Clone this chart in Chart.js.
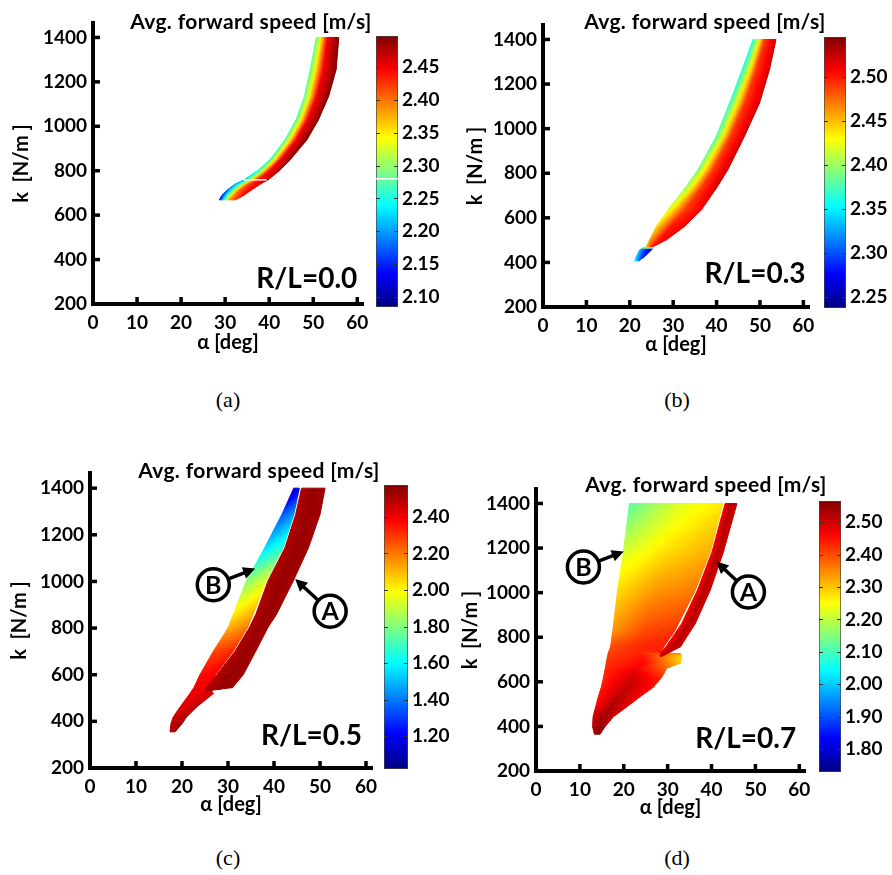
<!DOCTYPE html>
<html>
<head>
<meta charset="utf-8">
<script src="https://cdn.jsdelivr.net/npm/chart.js@4.4.1/dist/chart.umd.min.js"></script>
<style>
  body { margin: 0; background: #fff; }
  #page { position: relative; width: 892px; height: 875px; overflow: hidden; }
  canvas { position: absolute; }
  .ttl { position: absolute; width: max-content; font: bold 21px Lato, sans-serif; letter-spacing: 0.35px; white-space: nowrap; line-height: 1; transform: translate(-50%, -50%); }
  .cap { position: absolute; width: max-content; font: 22px "Liberation Serif", serif; line-height: 1; transform: translate(-50%, -50%); }
</style>
</head>
<body>
<div id="page"></div>
<script>
// axis ticks shared by all panels
const alphaTicks = [0, 10, 20, 30, 40, 50, 60];
const kTicks = [200, 400, 600, 800, 1000, 1200, 1400];

// colour bar ticks and limits
const cbTicksA = [2.10, 2.15, 2.20, 2.25, 2.30, 2.35, 2.40, 2.45];
const cbTicksB = [2.25, 2.30, 2.35, 2.40, 2.45, 2.50];
const cbTicksC = [1.20, 1.40, 1.60, 1.80, 2.00, 2.20, 2.40];
const cbTicksD = [1.80, 1.90, 2.00, 2.10, 2.20, 2.30, 2.40, 2.50];
const cbRangeA = [2.085, 2.497];
const cbRangeB = [2.237, 2.545];
const cbRangeC = [1.02, 2.575];
const cbRangeD = [1.73, 2.565];

// (a) R/L = 0.0 : rows of the stable region (k, edge angles, speed left/middle/right)
const aK      = [669, 690, 714, 740, 760, 800, 850, 940, 1030, 1135, 1255, 1400];
const aLeft   = [28.7, 29.3, 30.5, 32.3, 34.3, 37.3, 40.2, 43.6, 46.1, 48.0, 49.3, 50.7];
const aRight  = [32.3, 34.3, 36.0, 38.0, 39.8, 42.3, 44.8, 48.6, 51.2, 53.5, 55.2, 55.8];
const aSpeedL = [2.13, 2.15, 2.18, 2.20, 2.22, 2.25, 2.26, 2.27, 2.27, 2.28, 2.28, 2.28];
const aSpeedM = [2.37, 2.39, 2.41, 2.42, 2.43, 2.44, 2.45, 2.45, 2.45, 2.45, 2.45, 2.45];
const aSpeedR = [2.44, 2.45, 2.46, 2.46, 2.47, 2.48, 2.49, 2.495, 2.495, 2.495, 2.495, 2.495];
const aStreakK = 759;
const aStreakAlpha = [34.2, 39.4];
const aStreakSpeed = 2.28;

// (b) R/L = 0.3
const bK      = [407, 426, 456, 464, 471, 501, 561, 636, 740, 816, 965, 1115, 1265, 1400];
const bLeft   = [21.1, 21.5, 22.3, 22.9, 23.8, 24.6, 26.1, 28.8, 33.0, 35.7, 39.9, 43.0, 45.9, 48.4];
const bRight  = [22.1, 23.4, 25.0, 25.2, 25.4, 28.4, 32.6, 36.5, 40.2, 42.6, 46.4, 49.9, 52.2, 53.7];
const bSpeedL = [2.36, 2.34, 2.33, 2.33, 2.45, 2.46, 2.44, 2.42, 2.40, 2.39, 2.38, 2.37, 2.36, 2.36];
const bSpeedM = [2.33, 2.30, 2.28, 2.28, 2.49, 2.50, 2.50, 2.49, 2.49, 2.49, 2.49, 2.49, 2.49, 2.49];
const bSpeedR = [2.30, 2.28, 2.27, 2.27, 2.51, 2.51, 2.51, 2.51, 2.52, 2.52, 2.52, 2.52, 2.52, 2.52];

// (c) R/L = 0.5, branch B then branch A
const cBk      = [355, 390, 419, 462, 519, 545, 600, 700, 800, 861, 1003, 1145, 1287, 1400];
const cBleft   = [17.4, 17.6, 18.1, 19.6, 21.7, 22.6, 23.9, 26.8, 30.0, 31.2, 34.0, 38.0, 41.7, 44.3];
const cBright  = [18.5, 20.0, 21.0, 23.2, 26.8, 26.0, 27.3, 31.1, 34.2, 35.5, 38.3, 42.0, 44.3, 45.5];
const cBspeedL = [2.50, 2.48, 2.45, 2.42, 2.40, 2.40, 2.37, 2.28, 2.12, 2.02, 1.82, 1.55, 1.35, 1.10];
const cBspeedM = [2.52, 2.50, 2.48, 2.45, 2.42, 2.40, 2.38, 2.30, 2.16, 2.07, 1.88, 1.62, 1.40, 1.15];
const cBspeedR = [2.52, 2.52, 2.50, 2.48, 2.45, 2.42, 2.40, 2.33, 2.20, 2.12, 1.95, 1.68, 1.45, 1.20];
const cAk      = [532, 545, 600, 700, 800, 861, 1003, 1145, 1287, 1400];
const cAleft   = [25.0, 25.3, 27.6, 31.5, 34.6, 36.1, 38.7, 42.4, 44.7, 46.0];
const cAright  = [26.0, 31.0, 33.3, 36.0, 38.6, 40.6, 44.2, 47.5, 50.0, 51.1];
const cAspeedL = [2.50, 2.50, 2.50, 2.50, 2.50, 2.50, 2.50, 2.50, 2.50, 2.50];
const cAspeedM = [2.54, 2.54, 2.54, 2.54, 2.54, 2.54, 2.54, 2.54, 2.54, 2.54];
const cAspeedR = [2.52, 2.52, 2.52, 2.52, 2.52, 2.52, 2.52, 2.52, 2.52, 2.52];

// (d) R/L = 0.7, branch B then branch A
const dBk      = [365, 398, 443, 488, 533, 577, 622, 661, 684, 706, 725, 731, 757, 831, 1011, 1182, 1400];
const dBleft   = [13.3, 12.9, 13.0, 13.6, 14.2, 14.9, 15.4, 15.8, 16.0, 16.2, 16.4, 16.5, 17.0, 17.5, 18.6, 19.9, 21.3];
const dBright  = [14.6, 15.7, 17.6, 20.7, 23.7, 26.8, 28.7, 29.8, 32.9, 33.2, 33.0, 28.2, 29.1, 31.7, 36.3, 39.7, 42.6];
const dBspeedL = [2.53, 2.52, 2.50, 2.47, 2.45, 2.44, 2.43, 2.43, 2.42, 2.42, 2.41, 2.41, 2.40, 2.34, 2.28, 2.22, 2.12];
const dBspeedM = [2.55, 2.55, 2.54, 2.53, 2.52, 2.51, 2.50, 2.47, 2.46, 2.45, 2.44, 2.43, 2.43, 2.40, 2.34, 2.28, 2.22];
const dBspeedR = [2.55, 2.53, 2.50, 2.48, 2.46, 2.45, 2.43, 2.38, 2.30, 2.28, 2.30, 2.42, 2.44, 2.42, 2.36, 2.32, 2.27];
const dAk      = [715, 734, 757, 861, 1011, 1182, 1400];
const dAleft   = [28.2, 28.4, 29.6, 33.2, 36.8, 40.1, 43.1];
const dAright  = [28.8, 30.6, 32.9, 36.3, 39.7, 42.7, 45.8];
const dAspeedL = [2.47, 2.47, 2.47, 2.47, 2.47, 2.47, 2.47];
const dAspeedM = [2.52, 2.52, 2.52, 2.52, 2.52, 2.52, 2.52];
const dAspeedR = [2.50, 2.50, 2.50, 2.50, 2.50, 2.50, 2.50];

// circled labels: text, circle centre (alpha, k), arrow tip (alpha, k)
const calloutsC = [['B', 26.8, 986, 35.9, 1055], ['A', 52.2, 872, 44.6, 1010]];
const calloutsD = [['B', 10.8, 1115, 20.0, 1185], ['A', 48.4, 1003, 41.1, 1140]];

Chart.defaults.font.family = 'Lato, sans-serif';
Chart.defaults.font.weight = 'bold';
Chart.defaults.color = '#000';

function jet(t) {
  t = Math.max(0, Math.min(1, t));
  const ch = c => Math.round(255 * Math.max(0, Math.min(1, 1.5 - Math.abs(4 * t - c))));
  return 'rgb(' + ch(3) + ',' + ch(2) + ',' + ch(1) + ')';
}

function band(k, left, right, sL, sM, sR) {
  return { k, left, right, sL, sM, sR };
}

const panels = [
  { id: 'a', rl: 'R/L=0.0', rlAt: [60, 272], range: cbRangeA, cbTicks: cbTicksA,
    area: { l: 93, t: 23, r: 363, b: 304 }, yTitleX: 22, xTitleY: 343,
    cb: { l: 376, t: 36, r: 398, b: 307 }, title: [251, 20], cap: ['(a)', 228, 400],
    bands: [band(aK, aLeft, aRight, aSpeedL, aSpeedM, aSpeedR)], callouts: [] },
  { id: 'b', rl: 'R/L=0.3', rlAt: [60.5, 308], range: cbRangeB, cbTicks: cbTicksB,
    area: { l: 543, t: 25, r: 809, b: 307 }, yTitleX: 476, xTitleY: 345,
    cb: { l: 824, t: 37, r: 846, b: 308 }, title: [705, 20], cap: ['(b)', 677, 400],
    bands: [band(bK, bLeft, bRight, bSpeedL, bSpeedM, bSpeedR)], callouts: [] },
  { id: 'c', rl: 'R/L=0.5', rlAt: [59.1, 298], range: cbRangeC, cbTicks: cbTicksC,
    area: { l: 90, t: 473, r: 372, b: 768 }, yTitleX: 20, xTitleY: 805,
    cb: { l: 384, t: 485, r: 408, b: 769 }, title: [259, 469], cap: ['(c)', 228, 858],
    bands: [band(cBk, cBleft, cBright, cBspeedL, cBspeedM, cBspeedR),
            band(cAk, cAleft, cAright, cAspeedL, cAspeedM, cAspeedR)], callouts: calloutsC },
  { id: 'd', rl: 'R/L=0.7', rlAt: [59.3, 303], range: cbRangeD, cbTicks: cbTicksD,
    area: { l: 536, t: 489, r: 805, b: 771 }, yTitleX: 471, xTitleY: 808,
    cb: { l: 819, t: 501, r: 841, b: 772 }, title: [706, 483], cap: ['(d)', 677, 858],
    bands: [band(dBk, dBleft, dBright, dBspeedL, dBspeedM, dBspeedR),
            band(dAk, dAleft, dAright, dAspeedL, dAspeedM, dAspeedR)], callouts: calloutsD }
];
panels[0].streak = { k: aStreakK, alpha: aStreakAlpha, speed: aStreakSpeed };

const page = document.getElementById('page');

function addCanvas(left, top, w, h) {
  const cv = document.createElement('canvas');
  cv.width = w; cv.height = h;
  cv.style.left = left + 'px'; cv.style.top = top + 'px';
  cv.style.width = w + 'px'; cv.style.height = h + 'px';
  page.appendChild(cv);
  return cv;
}

function addText(cls, text, x, y) {
  const d = document.createElement('div');
  d.className = cls; d.textContent = text;
  d.style.left = x + 'px'; d.style.top = y + 'px';
  page.appendChild(d);
}

// keep the plot area exactly where the layout puts it
function noPad(s) {
  s.paddingTop = 0; s.paddingBottom = 0; s.paddingLeft = 0; s.paddingRight = 0;
}

// fills each band in thin slices, colour running across the band
function bandPlugin(p) {
  return {
    id: 'bands',
    beforeDatasetsDraw(chart) {
      const ctx = chart.ctx, a = chart.chartArea;
      const col = s => jet((s - p.range[0]) / (p.range[1] - p.range[0]));
      const mix = (u, v, f) => u + (v - u) * f;
      const pt = (P, Q, f) => ({ x: mix(P.x, Q.x, f), y: mix(P.y, Q.y, f) });
      ctx.save();
      ctx.beginPath();
      ctx.rect(a.left, a.top, a.right - a.left, a.bottom - a.top);
      ctx.clip();
      ctx.lineWidth = 1;
      ctx.lineJoin = 'round';
      p.bands.forEach(b => {
        const L = chart.getDatasetMeta(b.li).data;
        const R = chart.getDatasetMeta(b.ri).data;
        for (let i = 0; i < L.length - 1; i++) {
          const dy = Math.max(Math.abs(L[i + 1].y - L[i].y), Math.abs(R[i + 1].y - R[i].y));
          const steps = Math.max(1, Math.ceil(dy / 2));
          for (let s = 0; s < steps; s++) {
            const f0 = s / steps, f1 = (s + 1) / steps, fm = (f0 + f1) / 2;
            const q = [pt(L[i], L[i + 1], f0), pt(R[i], R[i + 1], f0), pt(R[i], R[i + 1], f1), pt(L[i], L[i + 1], f1)];
            const x0 = (q[0].x + q[3].x) / 2, y0 = (q[0].y + q[3].y) / 2;
            const x1 = (q[1].x + q[2].x) / 2, y1 = (q[1].y + q[2].y) / 2;
            const sl = mix(b.sL[i], b.sL[i + 1], fm);
            const sm = mix(b.sM[i], b.sM[i + 1], fm);
            const sr = mix(b.sR[i], b.sR[i + 1], fm);
            let fill;
            if (Math.hypot(x1 - x0, y1 - y0) < 1) {
              fill = col(sm);
            } else {
              fill = ctx.createLinearGradient(x0, y0, x1, y1);
              for (let j = 0; j <= 10; j++) {
                const f = j / 10;
                const v = f < 0.5 ? mix(sl, sm, f * 2) : mix(sm, sr, (f - 0.5) * 2);
                fill.addColorStop(f, col(v));
              }
            }
            ctx.beginPath();
            q.forEach((c, n) => n ? ctx.lineTo(c.x, c.y) : ctx.moveTo(c.x, c.y));
            ctx.closePath();
            ctx.fillStyle = fill;
            ctx.strokeStyle = fill;
            ctx.fill();
            ctx.stroke();
          }
        }
      });
      ctx.restore();
    }
  };
}

// inward tick marks, R/L label and the circled branch labels
function decorPlugin(p) {
  return {
    id: 'decor',
    afterDraw(chart) {
      const ctx = chart.ctx, xs = chart.scales.x, ys = chart.scales.y, a = chart.chartArea;
      ctx.save();
      ctx.strokeStyle = '#000';
      ctx.fillStyle = '#000';
      ctx.lineWidth = 3.5;
      alphaTicks.slice(1).forEach(v => {
        const x = xs.getPixelForValue(v);
        ctx.beginPath(); ctx.moveTo(x, a.bottom); ctx.lineTo(x, a.bottom - 7); ctx.stroke();
      });
      kTicks.slice(1).forEach(v => {
        const y = ys.getPixelForValue(v);
        ctx.beginPath(); ctx.moveTo(a.left, y); ctx.lineTo(a.left + 7, y); ctx.stroke();
      });

      ctx.font = 'bold 28px Lato, sans-serif';
      ctx.textAlign = 'right';
      ctx.textBaseline = 'alphabetic';
      ctx.fillText(p.rl, xs.getPixelForValue(p.rlAt[0]), ys.getPixelForValue(p.rlAt[1]));

      p.callouts.forEach(([txt, ca, ck, ta, tk]) => {
        const cx = xs.getPixelForValue(ca), cy = ys.getPixelForValue(ck);
        const tx = xs.getPixelForValue(ta), ty = ys.getPixelForValue(tk);
        const r = 16;
        const len = Math.hypot(tx - cx, ty - cy), ux = (tx - cx) / len, uy = (ty - cy) / len;
        ctx.lineWidth = 3.5;
        ctx.beginPath(); ctx.arc(cx, cy, r, 0, Math.PI * 2);
        ctx.fillStyle = '#fff'; ctx.fill(); ctx.stroke();
        ctx.fillStyle = '#000';
        ctx.beginPath();
        ctx.moveTo(cx + ux * (r + 1), cy + uy * (r + 1));
        ctx.lineTo(tx - ux * 9, ty - uy * 9);
        ctx.stroke();
        ctx.beginPath();
        ctx.moveTo(tx, ty);
        ctx.lineTo(tx - ux * 12 - uy * 6, ty - uy * 12 + ux * 6);
        ctx.lineTo(tx - ux * 12 + uy * 6, ty - uy * 12 - ux * 6);
        ctx.closePath();
        ctx.fill();
        ctx.font = 'bold 25px Lato, sans-serif';
        ctx.textAlign = 'center';
        ctx.textBaseline = 'middle';
        ctx.fillText(txt, cx, cy + 1);
      });
      ctx.restore();
    }
  };
}

function cbPlugin(p) {
  return {
    id: 'cbTicks',
    afterDatasetsDraw(chart) {
      const ctx = chart.ctx, ys = chart.scales.y, a = chart.chartArea;
      ctx.save();
      if (p.streak) {
        const y = ys.getPixelForValue(p.streak.speed);
        ctx.strokeStyle = '#fff'; ctx.lineWidth = 1.5;
        ctx.beginPath(); ctx.moveTo(a.left, y); ctx.lineTo(a.right, y); ctx.stroke();
      }
      ctx.strokeStyle = '#333';
      ctx.lineWidth = 1;
      p.cbTicks.forEach(v => {
        const y = Math.round(ys.getPixelForValue(v)) + 0.5;
        ctx.beginPath();
        ctx.moveTo(a.left, y); ctx.lineTo(a.left + 4, y);
        ctx.moveTo(a.right - 4, y); ctx.lineTo(a.right, y);
        ctx.stroke();
      });
      ctx.restore();
    }
  };
}

const tickFont = { size: 19, weight: 'bold' };
const titleFont = { size: 20, weight: 'bold' };

panels.forEach(p => {
  const A = p.area;
  const left = Math.round(p.yTitleX - 12);
  const top = A.t - 2;
  const right = A.r + 10;
  const bottom = Math.round(p.xTitleY + 12);
  const yW = A.l - left, xH = bottom - A.b;
  const cv = addCanvas(left, top, right - left, bottom - top);

  const datasets = [];
  p.bands.forEach(b => {
    b.li = datasets.length;
    datasets.push({ data: b.k.map((k, i) => ({ x: b.left[i], y: k })), pointRadius: 0, showLine: false });
    b.ri = datasets.length;
    datasets.push({ data: b.k.map((k, i) => ({ x: b.right[i], y: k })), pointRadius: 0, showLine: false });
  });
  if (p.streak) {
    datasets.push({
      data: p.streak.alpha.map(v => ({ x: v, y: p.streak.k })),
      showLine: true, borderColor: '#fff', borderWidth: 1.5, pointRadius: 0
    });
  }

  new Chart(cv, {
    type: 'scatter',
    data: { datasets },
    options: {
      responsive: false,
      animation: false,
      events: [],
      layout: { padding: { top: 2, right: 10, left: 0, bottom: 0 } },
      plugins: { legend: { display: false }, tooltip: { enabled: false } },
      scales: {
        x: {
          type: 'linear', min: 0, max: 61.3,
          afterBuildTicks: s => { s.ticks = alphaTicks.map(v => ({ value: v })); },
          afterFit: s => { s.height = xH; noPad(s); },
          grid: { display: false, drawTicks: false },
          border: { display: true, width: 4, color: '#000' },
          ticks: { padding: 7, font: tickFont, maxRotation: 0, autoSkip: false, callback: v => String(v) },
          title: { display: true, text: 'α [deg]', padding: 0, font: titleFont }
        },
        y: {
          type: 'linear', min: 200, max: 1465,
          afterBuildTicks: s => { s.ticks = kTicks.map(v => ({ value: v })); },
          afterFit: s => { s.width = yW; noPad(s); },
          grid: { display: false, drawTicks: false },
          border: { display: true, width: 4, color: '#000' },
          ticks: { padding: 6, font: tickFont, autoSkip: false, callback: v => String(v) },
          title: { display: true, text: 'k  [N/m ]', padding: 0, font: titleFont }
        }
      }
    },
    plugins: [bandPlugin(p), decorPlugin(p)]
  });

  // colour bar
  const C = p.cb;
  const cbCv = addCanvas(C.l - 1, C.t - 12, C.r - C.l + 1 + 56, C.b - C.t + 24);
  new Chart(cbCv, {
    type: 'bar',
    data: {
      labels: [''],
      datasets: [{
        data: [[p.range[0], p.range[1]]],
        backgroundColor: c => {
          const ch = c.chart, ys = ch.scales.y;
          if (!ch.chartArea || !ys) return '#888';
          const g = ch.ctx.createLinearGradient(0, ys.getPixelForValue(p.range[0]), 0, ys.getPixelForValue(p.range[1]));
          for (let j = 0; j <= 32; j++) g.addColorStop(j / 32, jet(j / 32));
          return g;
        },
        borderColor: '#444',
        borderWidth: 1,
        borderSkipped: false,
        barPercentage: 1,
        categoryPercentage: 1
      }]
    },
    options: {
      responsive: false,
      animation: false,
      events: [],
      layout: { padding: { left: 1, top: 12, bottom: 12, right: 0 } },
      plugins: { legend: { display: false }, tooltip: { enabled: false } },
      scales: {
        x: { display: false, afterFit: noPad },
        y: {
          position: 'right', min: p.range[0], max: p.range[1],
          afterBuildTicks: s => { s.ticks = p.cbTicks.map(v => ({ value: v })); },
          afterFit: s => { s.width = 56; noPad(s); },
          grid: { display: false, drawTicks: false },
          border: { display: false },
          ticks: { padding: 4, font: tickFont, autoSkip: false, callback: v => Number(v).toFixed(2) }
        }
      }
    },
    plugins: [cbPlugin(p)]
  });

  addText('ttl', 'Avg. forward speed [m/s]', p.title[0], p.title[1]);
  addText('cap', p.cap[0], p.cap[1], p.cap[2]);
});
</script>
</body>
</html>
